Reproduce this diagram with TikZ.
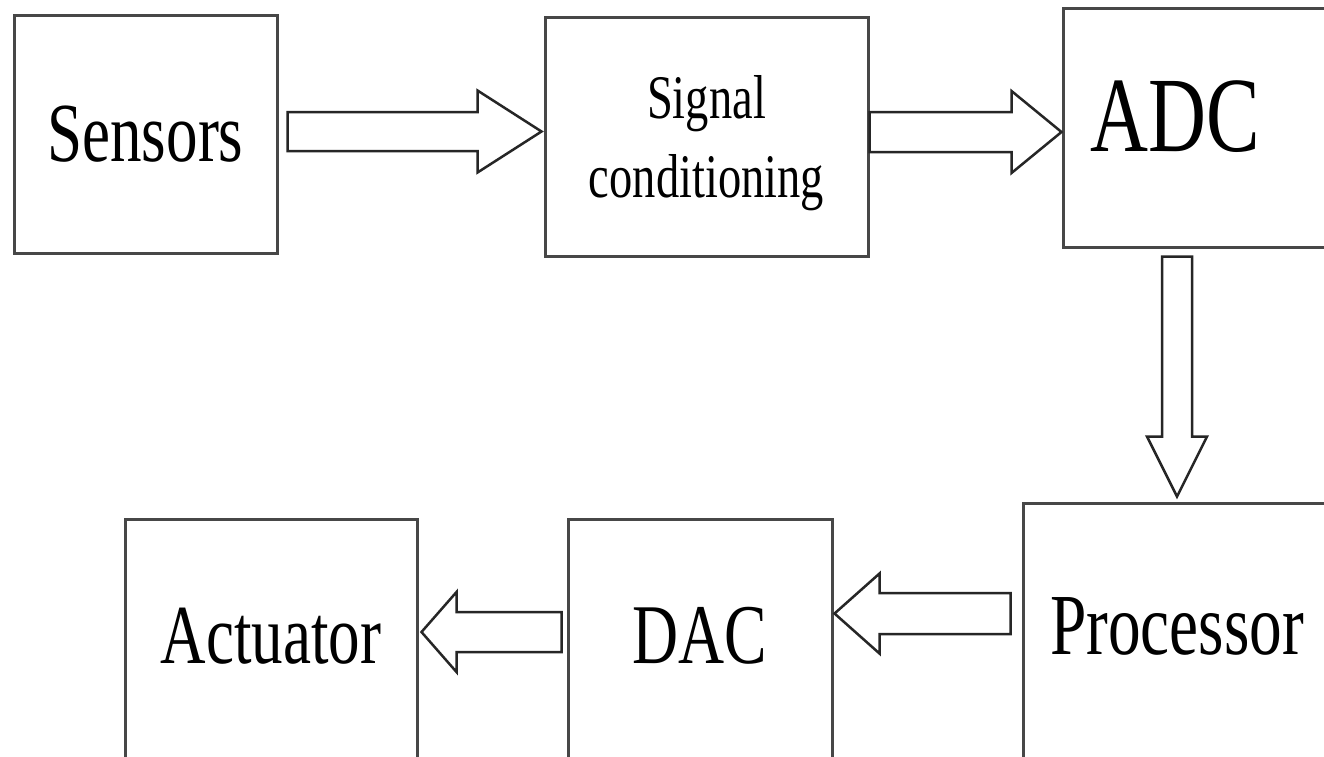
\documentclass[tikz,border=0pt]{standalone}
\usepackage{fontspec}
\setmainfont{Liberation Serif}[FakeStretch=0.75]
\usetikzlibrary{calc}
\tikzset{
  box/.style={draw=black!72, line width=3pt, inner sep=0pt, align=center},
  blockarrow/.style={draw=black!85, line width=2.5pt, fill=white, line join=miter},
}
% right-pointing block arrow: #1 start, #2 tip, #3 shaft half width, #4 head half width, #5 head length
\newcommand\rarrow[5]{\draw[blockarrow] let \p1=(#1),\p2=(#2) in
  (\x1,\y1+#3) -- (\x2-#5,\y1+#3) -- (\x2-#5,\y1+#4) -- (\x2,\y1) --
  (\x2-#5,\y1-#4) -- (\x2-#5,\y1-#3) -- (\x1,\y1-#3) -- cycle;}
\newcommand\larrow[5]{\draw[blockarrow] let \p1=(#1),\p2=(#2) in
  (\x1,\y1+#3) -- (\x2+#5,\y1+#3) -- (\x2+#5,\y1+#4) -- (\x2,\y1) --
  (\x2+#5,\y1-#4) -- (\x2+#5,\y1-#3) -- (\x1,\y1-#3) -- cycle;}
\newcommand\darrow[5]{\draw[blockarrow] let \p1=(#1),\p2=(#2) in
  (\x1-#3,\y1) -- (\x1-#3,\y2+#5) -- (\x1-#4,\y2+#5) -- (\x1,\y2) --
  (\x1+#4,\y2+#5) -- (\x1+#3,\y2+#5) -- (\x1+#3,\y1) -- cycle;}
\begin{document}
\begin{tikzpicture}[x=1pt,y=-1pt]
\useasboundingbox (0,0) rectangle (1324,756);
\fill[white] (0,0) rectangle (1324,756);
\clip (0,0) rectangle (1324,756);
% boxes
\node[box, minimum width=263pt, minimum height=238pt,
      font=\fontsize{84}{90}\selectfont] (sens) at (145.5,134) {Sensors};
\node[box, minimum width=323pt, minimum height=239pt,
      font=\fontsize{62}{79}\selectfont, text depth=0pt] (sig) at (706.5,136.5) {Signal\\conditioning};
\node[box, minimum width=337pt, minimum height=239pt] (adc) at (1231.5,127.5) {};
\node[inner sep=0pt, font=\fontsize{107}{110}\selectfont] (adct) at (1175,117) {ADC};
\node[box, minimum width=308pt, minimum height=257pt,
      font=\fontsize{87}{90}\selectfont, text depth=10pt] (proc) at (1177,631.5) {Processor};
\node[box, minimum width=264pt, minimum height=241pt,
      font=\fontsize{85}{90}\selectfont, text depth=9pt] (dac) at (700,639.5) {DAC};
\node[box, minimum width=292pt, minimum height=241pt,
      font=\fontsize{84}{90}\selectfont, text depth=8pt] (act) at (271,639.5) {Actuator};
% connectors
\coordinate (a1s) at ($(sens.east)+(9,-2.5)$);
\coordinate (a1e) at ($(sig.west)+(-2,-5)$);
\rarrow{a1s}{a1e}{19.5pt}{41pt}{64pt}
\coordinate (a2s) at ($(sig.east)+(0,-4.5)$);
\coordinate (a2e) at ($(adc.west)+(0,4.5)$);
\rarrow{a2s}{a2e}{20pt}{41pt}{50pt}
\coordinate (a3s) at ($(adc.south)+(-54.5,8)$);
\coordinate (a3e) at ($(proc.north)+(0,-5)$);
\darrow{a3s}{a3e}{15pt}{30pt}{60pt}
\coordinate (a4s) at ($(proc.west)+(-11,-18)$);
\coordinate (a4e) at ($(dac.east)+(1,-26.5)$);
\larrow{a4s}{a4e}{20.5pt}{40pt}{45pt}
\coordinate (a5s) at ($(dac.west)+(-5,-7.5)$);
\coordinate (a5e) at ($(act.east)+(3,-7.5)$);
\larrow{a5s}{a5e}{20pt}{40pt}{35pt}
\end{tikzpicture}
\end{document}
